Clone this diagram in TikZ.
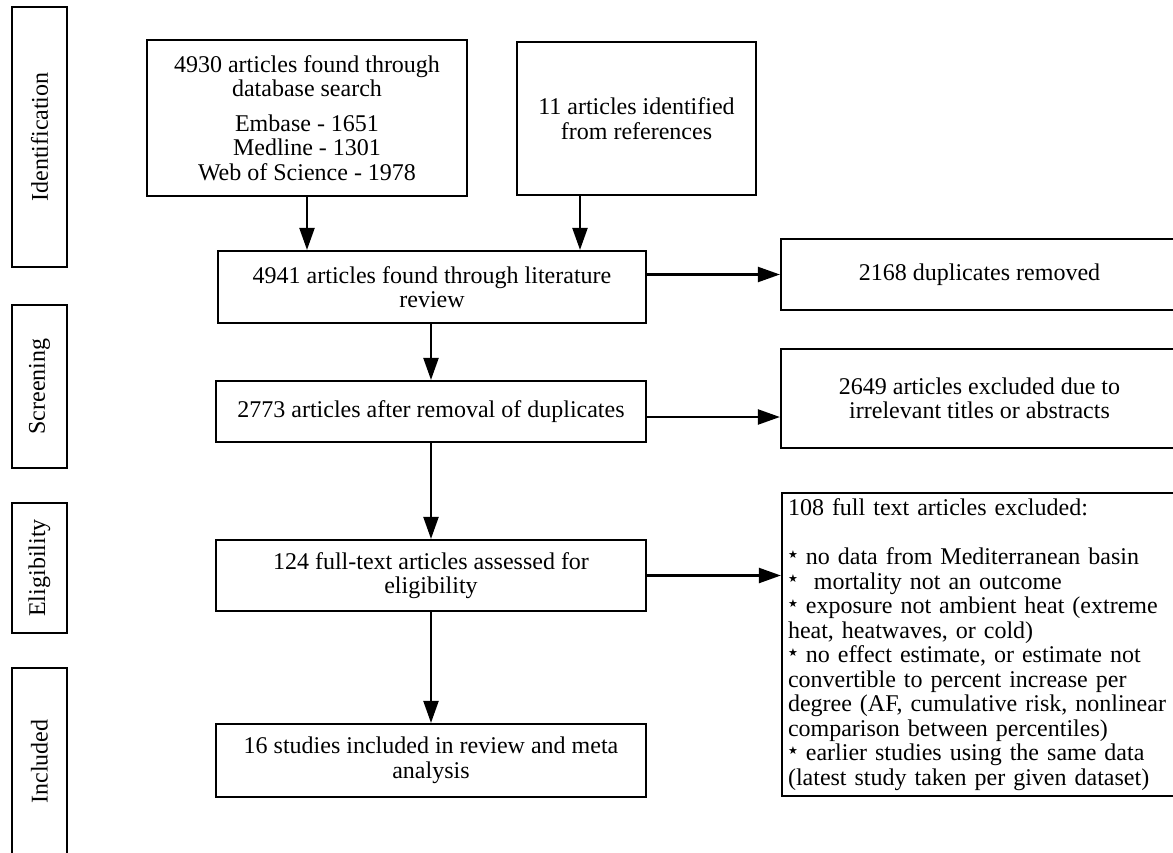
\documentclass[tikz,border=0pt]{standalone}
\usepackage{fontspec}
\setmainfont{Liberation Serif}
\newfontfamily\symfont{DejaVu Sans}
\usetikzlibrary{arrows.meta}

\newcommand{\bul}{\raisebox{6.5pt}{\symfont\fontsize{11}{11}\selectfont ★}}

\begin{document}
\begin{tikzpicture}[x=1pt,y=-1pt,
	box/.style={draw,line width=2.2pt,align=center,inner sep=4pt,font=\fontsize{24}{24.5}\selectfont},
	phase/.style={box,rotate=90,minimum height=55pt},
	arr/.style={line width=2.2pt,-{Triangle[length=22pt,width=15pt]}}]
\useasboundingbox (0,0) rectangle (1173,852);
	% phases
\path
	(39.5,137) node[phase,minimum width=260pt] (ident) {Identification}
	(39.5,386.5) node[phase,minimum width=163pt] (screen) {Screening}
	(39.5,568) node[phase,minimum width=130pt] (elig) {Eligibility}
	(39.5,761.5) node[phase,minimum width=187pt] (incl) {Included}
	;

	% main column
\path
	(307,118) node[box,minimum width=320pt,minimum height=156pt] (db)
		{4930 articles found through\\database search\\[10pt]Embase - 1651\\Medline - 1301\\Web of Science - 1978}
	(636.5,118.5) node[box,minimum width=239pt,minimum height=153pt] (refs)
		{11 articles identified\\from references}
	(432,287) node[box,minimum width=428pt,minimum height=72pt] (lit)
		{4941 articles found through literature\\review}
	(431,411.5) node[box,minimum width=430pt,minimum height=61pt] (dedup)
		{2773 articles after removal of duplicates}
	(431,575.5) node[box,minimum width=430pt,minimum height=71pt] (full)
		{124 full-text articles assessed for\\eligibility}
	(431,760.5) node[box,minimum width=430pt,minimum height=73pt] (meta)
		{16 studies included in review and meta\\analysis}
	;

	% exclusions
\path
	(979.5,274.5) node[box,minimum width=397pt,minimum height=71pt] (dup)
		{2168 duplicates removed}
	(979.5,398.5) node[box,minimum width=397pt,minimum height=99pt] (irr)
		{2649 articles excluded due to\\irrelevant titles or abstracts}
	(980,644.5) node[box,minimum height=299pt,text width=384pt,align=left,inner sep=6pt] (excl)
		{108 full text articles excluded:\\[24.5pt]
		\bul{} no data from Mediterranean basin\\
		\bul{} \ mortality not an outcome\\
		\bul{} exposure not ambient heat (extreme\\
		heat, heatwaves, or cold)\\
		\bul{} no effect estimate, or estimate not\\
		convertible to percent increase per\\
		degree (AF, cumulative risk, nonlinear\\
		comparison between percentiles)\\
		\bul{} earlier studies using the same data\\
		(latest study taken per given dataset)}
	;

\coordinate (refs-out) at ([xshift=-56.5pt]refs.south);
\coordinate (dedup-out) at ([yshift=-5.5pt]dedup.east);

\draw[arr] (db.south) -- (db.south |- lit.north);
\draw[arr] (refs-out) -- (refs-out |- lit.north);
\draw[arr] (dedup.north |- lit.south) -- (dedup.north);
\draw[arr] (lit.east |- dup.west) -- (dup.west);
\draw[arr] (dedup.south) -- (full.north);
\draw[arr] (dedup-out) -- (dedup-out -| irr.west);
\draw[arr] (full.east) -- (full.east -| excl.west);
\draw[arr] (full.south) -- (meta.north);
\end{tikzpicture}
\end{document}
